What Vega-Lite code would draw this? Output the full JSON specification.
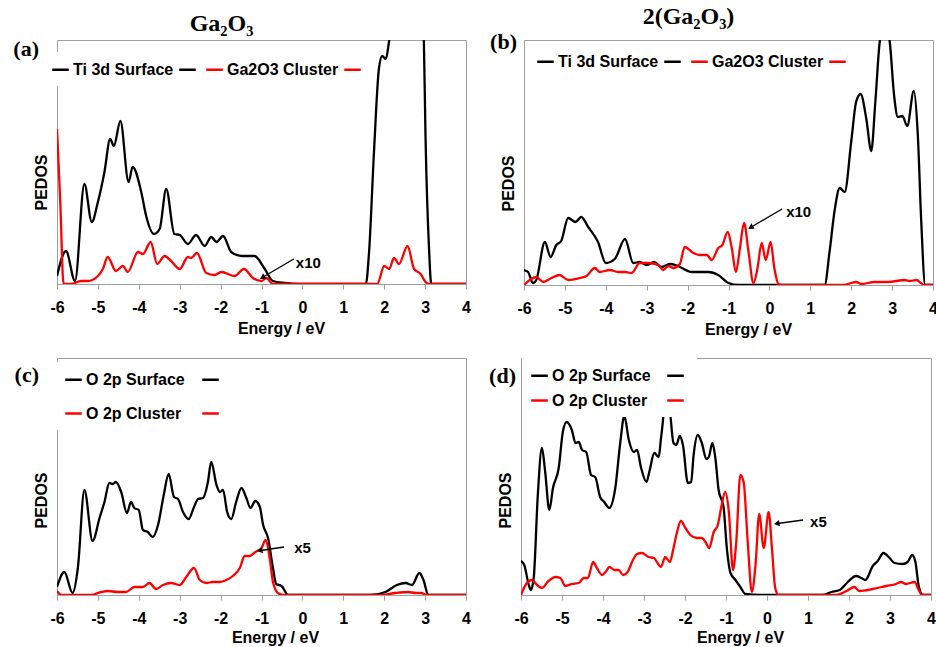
{
"$schema": "https://vega.github.io/schema/vega-lite/v6.json",
"padding": {"left": 12, "top": 4, "right": 0, "bottom": 0},
"background": "white",
"datasets": {
"a": [
{"s":"Ti 3d Surface","e":-6,"v":8},{"s":"Ti 3d Surface","e":-5.78,"v":33},{"s":"Ti 3d Surface","e":-5.56,"v":3},{"s":"Ti 3d Surface","e":-5.33,"v":100},{"s":"Ti 3d Surface","e":-5.15,"v":62},{"s":"Ti 3d Surface","e":-5,"v":82},{"s":"Ti 3d Surface","e":-4.84,"v":112},{"s":"Ti 3d Surface","e":-4.7,"v":145},{"s":"Ti 3d Surface","e":-4.61,"v":138},{"s":"Ti 3d Surface","e":-4.45,"v":163},{"s":"Ti 3d Surface","e":-4.25,"v":102},{"s":"Ti 3d Surface","e":-4.15,"v":117},{"s":"Ti 3d Surface","e":-3.94,"v":92},{"s":"Ti 3d Surface","e":-3.82,"v":68},{"s":"Ti 3d Surface","e":-3.63,"v":50},{"s":"Ti 3d Surface","e":-3.49,"v":55},{"s":"Ti 3d Surface","e":-3.33,"v":95},{"s":"Ti 3d Surface","e":-3.13,"v":50},{"s":"Ti 3d Surface","e":-3,"v":49},{"s":"Ti 3d Surface","e":-2.8,"v":40},{"s":"Ti 3d Surface","e":-2.6,"v":49},{"s":"Ti 3d Surface","e":-2.39,"v":38},{"s":"Ti 3d Surface","e":-2.23,"v":47},{"s":"Ti 3d Surface","e":-2.1,"v":42},{"s":"Ti 3d Surface","e":-1.94,"v":48},{"s":"Ti 3d Surface","e":-1.74,"v":32},{"s":"Ti 3d Surface","e":-1.49,"v":28},{"s":"Ti 3d Surface","e":-1.17,"v":28},{"s":"Ti 3d Surface","e":-0.92,"v":15},{"s":"Ti 3d Surface","e":-0.72,"v":3},{"s":"Ti 3d Surface","e":-0.43,"v":1},{"s":"Ti 3d Surface","e":-0.1,"v":0},{"s":"Ti 3d Surface","e":1.55,"v":0},{"s":"Ti 3d Surface","e":1.63,"v":32},{"s":"Ti 3d Surface","e":1.75,"v":132},{"s":"Ti 3d Surface","e":1.87,"v":215},{"s":"Ti 3d Surface","e":1.95,"v":228},{"s":"Ti 3d Surface","e":2.04,"v":225},{"s":"Ti 3d Surface","e":2.12,"v":243},{"s":"Ti 3d Surface","e":2.3,"v":300},{"s":"Ti 3d Surface","e":2.6,"v":330},{"s":"Ti 3d Surface","e":2.9,"v":300},{"s":"Ti 3d Surface","e":2.97,"v":243},{"s":"Ti 3d Surface","e":3.01,"v":148},{"s":"Ti 3d Surface","e":3.1,"v":32},{"s":"Ti 3d Surface","e":3.15,"v":0},{"s":"Ti 3d Surface","e":4,"v":0},
{"s":"Ga2O3 Cluster","e":-6,"v":155},{"s":"Ga2O3 Cluster","e":-5.92,"v":82},{"s":"Ga2O3 Cluster","e":-5.84,"v":0},{"s":"Ga2O3 Cluster","e":-5.66,"v":0},{"s":"Ga2O3 Cluster","e":-5.41,"v":3},{"s":"Ga2O3 Cluster","e":-5.25,"v":3},{"s":"Ga2O3 Cluster","e":-5,"v":8},{"s":"Ga2O3 Cluster","e":-4.88,"v":15},{"s":"Ga2O3 Cluster","e":-4.76,"v":27},{"s":"Ga2O3 Cluster","e":-4.56,"v":13},{"s":"Ga2O3 Cluster","e":-4.39,"v":18},{"s":"Ga2O3 Cluster","e":-4.27,"v":12},{"s":"Ga2O3 Cluster","e":-4.02,"v":32},{"s":"Ga2O3 Cluster","e":-3.9,"v":30},{"s":"Ga2O3 Cluster","e":-3.71,"v":42},{"s":"Ga2O3 Cluster","e":-3.55,"v":20},{"s":"Ga2O3 Cluster","e":-3.37,"v":28},{"s":"Ga2O3 Cluster","e":-3.21,"v":23},{"s":"Ga2O3 Cluster","e":-3,"v":15},{"s":"Ga2O3 Cluster","e":-2.8,"v":27},{"s":"Ga2O3 Cluster","e":-2.72,"v":26},{"s":"Ga2O3 Cluster","e":-2.58,"v":31},{"s":"Ga2O3 Cluster","e":-2.35,"v":11},{"s":"Ga2O3 Cluster","e":-2.15,"v":9},{"s":"Ga2O3 Cluster","e":-1.98,"v":12},{"s":"Ga2O3 Cluster","e":-1.66,"v":8},{"s":"Ga2O3 Cluster","e":-1.43,"v":15},{"s":"Ga2O3 Cluster","e":-1.21,"v":6},{"s":"Ga2O3 Cluster","e":-1,"v":3},{"s":"Ga2O3 Cluster","e":-0.88,"v":6},{"s":"Ga2O3 Cluster","e":-0.72,"v":0},{"s":"Ga2O3 Cluster","e":1.83,"v":0},{"s":"Ga2O3 Cluster","e":2,"v":18},{"s":"Ga2O3 Cluster","e":2.12,"v":15},{"s":"Ga2O3 Cluster","e":2.24,"v":26},{"s":"Ga2O3 Cluster","e":2.36,"v":20},{"s":"Ga2O3 Cluster","e":2.57,"v":38},{"s":"Ga2O3 Cluster","e":2.73,"v":15},{"s":"Ga2O3 Cluster","e":2.89,"v":10},{"s":"Ga2O3 Cluster","e":3.01,"v":2},{"s":"Ga2O3 Cluster","e":3.1,"v":0},{"s":"Ga2O3 Cluster","e":4,"v":0}
],
"b": [
{"s":"Ti 3d Surface","e":-6,"v":15},{"s":"Ti 3d Surface","e":-5.9,"v":13},{"s":"Ti 3d Surface","e":-5.78,"v":2},{"s":"Ti 3d Surface","e":-5.7,"v":5},{"s":"Ti 3d Surface","e":-5.49,"v":43},{"s":"Ti 3d Surface","e":-5.35,"v":28},{"s":"Ti 3d Surface","e":-5.21,"v":40},{"s":"Ti 3d Surface","e":-5.09,"v":44},{"s":"Ti 3d Surface","e":-4.92,"v":67},{"s":"Ti 3d Surface","e":-4.74,"v":63},{"s":"Ti 3d Surface","e":-4.6,"v":68},{"s":"Ti 3d Surface","e":-4.43,"v":58},{"s":"Ti 3d Surface","e":-4.19,"v":43},{"s":"Ti 3d Surface","e":-4,"v":22},{"s":"Ti 3d Surface","e":-3.78,"v":26},{"s":"Ti 3d Surface","e":-3.53,"v":46},{"s":"Ti 3d Surface","e":-3.33,"v":22},{"s":"Ti 3d Surface","e":-3.17,"v":23},{"s":"Ti 3d Surface","e":-3,"v":20},{"s":"Ti 3d Surface","e":-2.82,"v":23},{"s":"Ti 3d Surface","e":-2.64,"v":18},{"s":"Ti 3d Surface","e":-2.43,"v":21},{"s":"Ti 3d Surface","e":-2.24,"v":19},{"s":"Ti 3d Surface","e":-1.9,"v":13},{"s":"Ti 3d Surface","e":-1.49,"v":13},{"s":"Ti 3d Surface","e":-1.25,"v":10},{"s":"Ti 3d Surface","e":-1,"v":2},{"s":"Ti 3d Surface","e":-0.76,"v":0},{"s":"Ti 3d Surface","e":1.35,"v":0},{"s":"Ti 3d Surface","e":1.47,"v":33},{"s":"Ti 3d Surface","e":1.6,"v":76},{"s":"Ti 3d Surface","e":1.72,"v":97},{"s":"Ti 3d Surface","e":1.84,"v":93},{"s":"Ti 3d Surface","e":2,"v":143},{"s":"Ti 3d Surface","e":2.12,"v":183},{"s":"Ti 3d Surface","e":2.23,"v":191},{"s":"Ti 3d Surface","e":2.37,"v":166},{"s":"Ti 3d Surface","e":2.49,"v":134},{"s":"Ti 3d Surface","e":2.59,"v":183},{"s":"Ti 3d Surface","e":2.7,"v":244},{"s":"Ti 3d Surface","e":2.82,"v":262},{"s":"Ti 3d Surface","e":2.94,"v":244},{"s":"Ti 3d Surface","e":3.05,"v":189},{"s":"Ti 3d Surface","e":3.14,"v":168},{"s":"Ti 3d Surface","e":3.25,"v":169},{"s":"Ti 3d Surface","e":3.37,"v":159},{"s":"Ti 3d Surface","e":3.53,"v":194},{"s":"Ti 3d Surface","e":3.63,"v":149},{"s":"Ti 3d Surface","e":3.71,"v":66},{"s":"Ti 3d Surface","e":3.81,"v":0},{"s":"Ti 3d Surface","e":4,"v":0},
{"s":"Ga2O3 Cluster","e":-6,"v":0},{"s":"Ga2O3 Cluster","e":-5.86,"v":5},{"s":"Ga2O3 Cluster","e":-5.7,"v":8},{"s":"Ga2O3 Cluster","e":-5.53,"v":3},{"s":"Ga2O3 Cluster","e":-5.33,"v":7},{"s":"Ga2O3 Cluster","e":-5.13,"v":10},{"s":"Ga2O3 Cluster","e":-4.92,"v":5},{"s":"Ga2O3 Cluster","e":-4.64,"v":7},{"s":"Ga2O3 Cluster","e":-4.47,"v":9},{"s":"Ga2O3 Cluster","e":-4.27,"v":17},{"s":"Ga2O3 Cluster","e":-4.15,"v":13},{"s":"Ga2O3 Cluster","e":-3.9,"v":15},{"s":"Ga2O3 Cluster","e":-3.7,"v":13},{"s":"Ga2O3 Cluster","e":-3.53,"v":13},{"s":"Ga2O3 Cluster","e":-3.37,"v":12},{"s":"Ga2O3 Cluster","e":-3.17,"v":22},{"s":"Ga2O3 Cluster","e":-2.96,"v":22},{"s":"Ga2O3 Cluster","e":-2.72,"v":20},{"s":"Ga2O3 Cluster","e":-2.6,"v":15},{"s":"Ga2O3 Cluster","e":-2.47,"v":19},{"s":"Ga2O3 Cluster","e":-2.35,"v":17},{"s":"Ga2O3 Cluster","e":-2.19,"v":21},{"s":"Ga2O3 Cluster","e":-2.07,"v":38},{"s":"Ga2O3 Cluster","e":-1.86,"v":32},{"s":"Ga2O3 Cluster","e":-1.7,"v":30},{"s":"Ga2O3 Cluster","e":-1.53,"v":30},{"s":"Ga2O3 Cluster","e":-1.41,"v":25},{"s":"Ga2O3 Cluster","e":-1.25,"v":37},{"s":"Ga2O3 Cluster","e":-1.15,"v":40},{"s":"Ga2O3 Cluster","e":-1.02,"v":53},{"s":"Ga2O3 Cluster","e":-0.92,"v":37},{"s":"Ga2O3 Cluster","e":-0.82,"v":13},{"s":"Ga2O3 Cluster","e":-0.72,"v":37},{"s":"Ga2O3 Cluster","e":-0.62,"v":62},{"s":"Ga2O3 Cluster","e":-0.51,"v":33},{"s":"Ga2O3 Cluster","e":-0.39,"v":2},{"s":"Ga2O3 Cluster","e":-0.29,"v":17},{"s":"Ga2O3 Cluster","e":-0.19,"v":42},{"s":"Ga2O3 Cluster","e":-0.09,"v":25},{"s":"Ga2O3 Cluster","e":0.03,"v":43},{"s":"Ga2O3 Cluster","e":0.12,"v":17},{"s":"Ga2O3 Cluster","e":0.22,"v":1},{"s":"Ga2O3 Cluster","e":0.3,"v":0},{"s":"Ga2O3 Cluster","e":1.8,"v":0},{"s":"Ga2O3 Cluster","e":2.12,"v":3},{"s":"Ga2O3 Cluster","e":2.25,"v":1},{"s":"Ga2O3 Cluster","e":2.57,"v":3},{"s":"Ga2O3 Cluster","e":2.9,"v":3},{"s":"Ga2O3 Cluster","e":3.31,"v":5},{"s":"Ga2O3 Cluster","e":3.43,"v":4},{"s":"Ga2O3 Cluster","e":3.6,"v":5},{"s":"Ga2O3 Cluster","e":3.7,"v":2},{"s":"Ga2O3 Cluster","e":3.8,"v":0},{"s":"Ga2O3 Cluster","e":4,"v":0}
],
"c": [
{"s":"O 2p Surface","e":-6,"v":8},{"s":"O 2p Surface","e":-5.82,"v":23},{"s":"O 2p Surface","e":-5.62,"v":2},{"s":"O 2p Surface","e":-5.49,"v":27},{"s":"O 2p Surface","e":-5.33,"v":105},{"s":"O 2p Surface","e":-5.13,"v":54},{"s":"O 2p Surface","e":-4.96,"v":77},{"s":"O 2p Surface","e":-4.84,"v":93},{"s":"O 2p Surface","e":-4.72,"v":112},{"s":"O 2p Surface","e":-4.64,"v":111},{"s":"O 2p Surface","e":-4.56,"v":113},{"s":"O 2p Surface","e":-4.43,"v":103},{"s":"O 2p Surface","e":-4.29,"v":82},{"s":"O 2p Surface","e":-4.19,"v":93},{"s":"O 2p Surface","e":-4.11,"v":87},{"s":"O 2p Surface","e":-4,"v":85},{"s":"O 2p Surface","e":-3.9,"v":65},{"s":"O 2p Surface","e":-3.78,"v":63},{"s":"O 2p Surface","e":-3.66,"v":58},{"s":"O 2p Surface","e":-3.53,"v":70},{"s":"O 2p Surface","e":-3.39,"v":100},{"s":"O 2p Surface","e":-3.27,"v":121},{"s":"O 2p Surface","e":-3.14,"v":98},{"s":"O 2p Surface","e":-3.04,"v":96},{"s":"O 2p Surface","e":-2.92,"v":83},{"s":"O 2p Surface","e":-2.78,"v":76},{"s":"O 2p Surface","e":-2.65,"v":88},{"s":"O 2p Surface","e":-2.55,"v":96},{"s":"O 2p Surface","e":-2.43,"v":97},{"s":"O 2p Surface","e":-2.31,"v":113},{"s":"O 2p Surface","e":-2.23,"v":133},{"s":"O 2p Surface","e":-2.1,"v":110},{"s":"O 2p Surface","e":-2.02,"v":103},{"s":"O 2p Surface","e":-1.94,"v":105},{"s":"O 2p Surface","e":-1.84,"v":83},{"s":"O 2p Surface","e":-1.74,"v":76},{"s":"O 2p Surface","e":-1.62,"v":93},{"s":"O 2p Surface","e":-1.49,"v":107},{"s":"O 2p Surface","e":-1.37,"v":97},{"s":"O 2p Surface","e":-1.27,"v":87},{"s":"O 2p Surface","e":-1.15,"v":94},{"s":"O 2p Surface","e":-1.04,"v":88},{"s":"O 2p Surface","e":-0.96,"v":70},{"s":"O 2p Surface","e":-0.84,"v":57},{"s":"O 2p Surface","e":-0.72,"v":27},{"s":"O 2p Surface","e":-0.64,"v":11},{"s":"O 2p Surface","e":-0.51,"v":9},{"s":"O 2p Surface","e":-0.35,"v":0},{"s":"O 2p Surface","e":1.66,"v":0},{"s":"O 2p Surface","e":2.03,"v":3},{"s":"O 2p Surface","e":2.31,"v":10},{"s":"O 2p Surface","e":2.52,"v":12},{"s":"O 2p Surface","e":2.68,"v":10},{"s":"O 2p Surface","e":2.86,"v":22},{"s":"O 2p Surface","e":2.96,"v":15},{"s":"O 2p Surface","e":3.08,"v":0},{"s":"O 2p Surface","e":4,"v":0},
{"s":"O 2p Cluster","e":-6,"v":4},{"s":"O 2p Cluster","e":-5.9,"v":0},{"s":"O 2p Cluster","e":-5.17,"v":0},{"s":"O 2p Cluster","e":-4.92,"v":3},{"s":"O 2p Cluster","e":-4.76,"v":4},{"s":"O 2p Cluster","e":-4.51,"v":3},{"s":"O 2p Cluster","e":-4.31,"v":3},{"s":"O 2p Cluster","e":-4.11,"v":8},{"s":"O 2p Cluster","e":-3.9,"v":8},{"s":"O 2p Cluster","e":-3.74,"v":12},{"s":"O 2p Cluster","e":-3.58,"v":6},{"s":"O 2p Cluster","e":-3.41,"v":10},{"s":"O 2p Cluster","e":-3.21,"v":12},{"s":"O 2p Cluster","e":-3,"v":10},{"s":"O 2p Cluster","e":-2.84,"v":18},{"s":"O 2p Cluster","e":-2.65,"v":27},{"s":"O 2p Cluster","e":-2.51,"v":15},{"s":"O 2p Cluster","e":-2.35,"v":12},{"s":"O 2p Cluster","e":-2.19,"v":13},{"s":"O 2p Cluster","e":-2.02,"v":13},{"s":"O 2p Cluster","e":-1.86,"v":15},{"s":"O 2p Cluster","e":-1.7,"v":19},{"s":"O 2p Cluster","e":-1.53,"v":27},{"s":"O 2p Cluster","e":-1.41,"v":39},{"s":"O 2p Cluster","e":-1.29,"v":39},{"s":"O 2p Cluster","e":-1.15,"v":43},{"s":"O 2p Cluster","e":-1,"v":47},{"s":"O 2p Cluster","e":-0.9,"v":55},{"s":"O 2p Cluster","e":-0.8,"v":37},{"s":"O 2p Cluster","e":-0.72,"v":13},{"s":"O 2p Cluster","e":-0.6,"v":2},{"s":"O 2p Cluster","e":-0.47,"v":0},{"s":"O 2p Cluster","e":1.93,"v":0},{"s":"O 2p Cluster","e":2.27,"v":2},{"s":"O 2p Cluster","e":2.59,"v":3},{"s":"O 2p Cluster","e":2.77,"v":2},{"s":"O 2p Cluster","e":2.9,"v":2},{"s":"O 2p Cluster","e":3.05,"v":0},{"s":"O 2p Cluster","e":4,"v":0}
],
"d": [
{"s":"O 2p Surface","e":-6,"v":34},{"s":"O 2p Surface","e":-5.92,"v":30},{"s":"O 2p Surface","e":-5.81,"v":10},{"s":"O 2p Surface","e":-5.76,"v":5},{"s":"O 2p Surface","e":-5.69,"v":17},{"s":"O 2p Surface","e":-5.59,"v":100},{"s":"O 2p Surface","e":-5.49,"v":147},{"s":"O 2p Surface","e":-5.41,"v":123},{"s":"O 2p Surface","e":-5.31,"v":85},{"s":"O 2p Surface","e":-5.22,"v":107},{"s":"O 2p Surface","e":-5.08,"v":127},{"s":"O 2p Surface","e":-4.98,"v":163},{"s":"O 2p Surface","e":-4.89,"v":173},{"s":"O 2p Surface","e":-4.76,"v":165},{"s":"O 2p Surface","e":-4.67,"v":152},{"s":"O 2p Surface","e":-4.59,"v":153},{"s":"O 2p Surface","e":-4.51,"v":145},{"s":"O 2p Surface","e":-4.41,"v":143},{"s":"O 2p Surface","e":-4.29,"v":120},{"s":"O 2p Surface","e":-4.19,"v":118},{"s":"O 2p Surface","e":-4.07,"v":98},{"s":"O 2p Surface","e":-3.97,"v":93},{"s":"O 2p Surface","e":-3.85,"v":87},{"s":"O 2p Surface","e":-3.7,"v":107},{"s":"O 2p Surface","e":-3.58,"v":152},{"s":"O 2p Surface","e":-3.48,"v":179},{"s":"O 2p Surface","e":-3.37,"v":155},{"s":"O 2p Surface","e":-3.25,"v":143},{"s":"O 2p Surface","e":-3.17,"v":145},{"s":"O 2p Surface","e":-3.07,"v":127},{"s":"O 2p Surface","e":-2.94,"v":113},{"s":"O 2p Surface","e":-2.86,"v":125},{"s":"O 2p Surface","e":-2.75,"v":142},{"s":"O 2p Surface","e":-2.64,"v":138},{"s":"O 2p Surface","e":-2.59,"v":155},{"s":"O 2p Surface","e":-2.52,"v":182},{"s":"O 2p Surface","e":-2.46,"v":215},{"s":"O 2p Surface","e":-2.41,"v":205},{"s":"O 2p Surface","e":-2.36,"v":182},{"s":"O 2p Surface","e":-2.28,"v":152},{"s":"O 2p Surface","e":-2.21,"v":150},{"s":"O 2p Surface","e":-2.13,"v":159},{"s":"O 2p Surface","e":-2.05,"v":150},{"s":"O 2p Surface","e":-1.93,"v":112},{"s":"O 2p Surface","e":-1.85,"v":113},{"s":"O 2p Surface","e":-1.79,"v":140},{"s":"O 2p Surface","e":-1.69,"v":160},{"s":"O 2p Surface","e":-1.59,"v":152},{"s":"O 2p Surface","e":-1.48,"v":136},{"s":"O 2p Surface","e":-1.42,"v":138},{"s":"O 2p Surface","e":-1.33,"v":152},{"s":"O 2p Surface","e":-1.26,"v":137},{"s":"O 2p Surface","e":-1.18,"v":105},{"s":"O 2p Surface","e":-1.06,"v":88},{"s":"O 2p Surface","e":-0.98,"v":47},{"s":"O 2p Surface","e":-0.89,"v":22},{"s":"O 2p Surface","e":-0.77,"v":15},{"s":"O 2p Surface","e":-0.65,"v":8},{"s":"O 2p Surface","e":-0.53,"v":1},{"s":"O 2p Surface","e":-0.16,"v":0},{"s":"O 2p Surface","e":1.36,"v":0},{"s":"O 2p Surface","e":1.57,"v":3},{"s":"O 2p Surface","e":1.77,"v":5},{"s":"O 2p Surface","e":1.97,"v":13},{"s":"O 2p Surface","e":2.17,"v":19},{"s":"O 2p Surface","e":2.3,"v":17},{"s":"O 2p Surface","e":2.4,"v":15},{"s":"O 2p Surface","e":2.58,"v":29},{"s":"O 2p Surface","e":2.7,"v":34},{"s":"O 2p Surface","e":2.84,"v":42},{"s":"O 2p Surface","e":2.99,"v":37},{"s":"O 2p Surface","e":3.11,"v":32},{"s":"O 2p Surface","e":3.31,"v":31},{"s":"O 2p Surface","e":3.43,"v":33},{"s":"O 2p Surface","e":3.54,"v":40},{"s":"O 2p Surface","e":3.62,"v":33},{"s":"O 2p Surface","e":3.7,"v":9},{"s":"O 2p Surface","e":3.8,"v":0},{"s":"O 2p Surface","e":4,"v":0},
{"s":"O 2p Cluster","e":-6,"v":0},{"s":"O 2p Cluster","e":-5.89,"v":10},{"s":"O 2p Cluster","e":-5.73,"v":15},{"s":"O 2p Cluster","e":-5.61,"v":10},{"s":"O 2p Cluster","e":-5.49,"v":7},{"s":"O 2p Cluster","e":-5.33,"v":14},{"s":"O 2p Cluster","e":-5.16,"v":18},{"s":"O 2p Cluster","e":-5.04,"v":17},{"s":"O 2p Cluster","e":-4.92,"v":9},{"s":"O 2p Cluster","e":-4.76,"v":11},{"s":"O 2p Cluster","e":-4.59,"v":12},{"s":"O 2p Cluster","e":-4.47,"v":17},{"s":"O 2p Cluster","e":-4.37,"v":17},{"s":"O 2p Cluster","e":-4.24,"v":33},{"s":"O 2p Cluster","e":-4.15,"v":27},{"s":"O 2p Cluster","e":-4.02,"v":20},{"s":"O 2p Cluster","e":-3.94,"v":23},{"s":"O 2p Cluster","e":-3.84,"v":28},{"s":"O 2p Cluster","e":-3.72,"v":25},{"s":"O 2p Cluster","e":-3.62,"v":25},{"s":"O 2p Cluster","e":-3.51,"v":20},{"s":"O 2p Cluster","e":-3.4,"v":23},{"s":"O 2p Cluster","e":-3.27,"v":35},{"s":"O 2p Cluster","e":-3.17,"v":41},{"s":"O 2p Cluster","e":-3.05,"v":42},{"s":"O 2p Cluster","e":-2.89,"v":38},{"s":"O 2p Cluster","e":-2.76,"v":37},{"s":"O 2p Cluster","e":-2.67,"v":32},{"s":"O 2p Cluster","e":-2.59,"v":28},{"s":"O 2p Cluster","e":-2.48,"v":38},{"s":"O 2p Cluster","e":-2.37,"v":33},{"s":"O 2p Cluster","e":-2.28,"v":47},{"s":"O 2p Cluster","e":-2.2,"v":62},{"s":"O 2p Cluster","e":-2.1,"v":74},{"s":"O 2p Cluster","e":-1.99,"v":67},{"s":"O 2p Cluster","e":-1.87,"v":60},{"s":"O 2p Cluster","e":-1.71,"v":57},{"s":"O 2p Cluster","e":-1.59,"v":57},{"s":"O 2p Cluster","e":-1.5,"v":53},{"s":"O 2p Cluster","e":-1.41,"v":47},{"s":"O 2p Cluster","e":-1.3,"v":63},{"s":"O 2p Cluster","e":-1.2,"v":70},{"s":"O 2p Cluster","e":-1.12,"v":87},{"s":"O 2p Cluster","e":-1.02,"v":103},{"s":"O 2p Cluster","e":-0.93,"v":83},{"s":"O 2p Cluster","e":-0.83,"v":25},{"s":"O 2p Cluster","e":-0.75,"v":53},{"s":"O 2p Cluster","e":-0.65,"v":120},{"s":"O 2p Cluster","e":-0.57,"v":113},{"s":"O 2p Cluster","e":-0.47,"v":53},{"s":"O 2p Cluster","e":-0.37,"v":3},{"s":"O 2p Cluster","e":-0.28,"v":30},{"s":"O 2p Cluster","e":-0.19,"v":81},{"s":"O 2p Cluster","e":-0.08,"v":47},{"s":"O 2p Cluster","e":0.04,"v":83},{"s":"O 2p Cluster","e":0.12,"v":47},{"s":"O 2p Cluster","e":0.2,"v":7},{"s":"O 2p Cluster","e":0.28,"v":0},{"s":"O 2p Cluster","e":1.69,"v":0},{"s":"O 2p Cluster","e":1.94,"v":4},{"s":"O 2p Cluster","e":2.13,"v":8},{"s":"O 2p Cluster","e":2.25,"v":4},{"s":"O 2p Cluster","e":2.58,"v":6},{"s":"O 2p Cluster","e":2.91,"v":9},{"s":"O 2p Cluster","e":3.15,"v":11},{"s":"O 2p Cluster","e":3.27,"v":13},{"s":"O 2p Cluster","e":3.39,"v":11},{"s":"O 2p Cluster","e":3.6,"v":13},{"s":"O 2p Cluster","e":3.7,"v":5},{"s":"O 2p Cluster","e":3.78,"v":0},{"s":"O 2p Cluster","e":4,"v":0}
]
},
"vconcat": [
{"hconcat": [
{"width": 409, "height": 244,
 "title": {"text": "Ga₂O₃", "font": "Liberation Serif", "fontSize": 24, "fontWeight": "bold", "color": "#000", "anchor": "middle", "dx": -40, "offset": 2},
 "layer": [
  {"data": {"name": "a"},
   "mark": {"type": "line", "clip": true, "strokeWidth": 2.3, "interpolate": "monotone"},
   "encoding": {
    "x": {"field": "e", "type": "quantitative", "scale": {"domain": [-6, 4], "nice": false, "zero": false}, "axis": {"title": "Energy / eV", "values": [-6,-5,-4,-3,-2,-1,0,1,2,3,4], "labelExpr": "replace(datum.label, '−', '-')", "tickSize": 5, "labelPadding": 10, "titlePadding": 5, "labelFlush": false, "titleX": 224}},
    "y": {"field": "v", "type": "quantitative", "scale": {"domain": [0, 244], "nice": false}, "axis": {"title": "PEDOS", "labels": false, "ticks": false, "titleY": 142, "titlePadding": 8}},
    "color": {"field": "s", "type": "nominal", "scale": {"domain": ["Ti 3d Surface", " ", "Ga2O3 Cluster", "  "], "range": ["#000000", "#000000", "#ff0000", "#ff0000"]},
     "legend": {"title": null, "orient": "none", "legendX": -14, "legendY": 12, "direction": "horizontal", "labelExpr": "trim(datum.label)", "columnPadding": 0, "padding": 8, "fillColor": "white"}}
   }},
  {"data": {"values": [{"e": -0.21, "v": 25, "e2": -0.96, "v2": 7}]},
   "mark": {"type": "rule", "color": "#000", "strokeWidth": 1.3},
   "encoding": {"x": {"field": "e", "type": "quantitative"}, "y": {"field": "v", "type": "quantitative"}, "x2": {"field": "e2"}, "y2": {"field": "v2"}}},
  {"data": {"values": [{"e": -0.96, "v": 7}]},
   "mark": {"type": "point", "shape": "triangle", "filled": true, "color": "#000", "size": 40, "angle": 239, "opacity": 1},
   "encoding": {"x": {"field": "e", "type": "quantitative"}, "y": {"field": "v", "type": "quantitative"}}},
  {"data": {"values": [{"e": -0.16, "v": 21, "t": "x10"}]},
   "mark": {"type": "text", "align": "left", "baseline": "middle", "font": "Liberation Sans", "fontSize": 15, "fontWeight": "bold", "color": "#000"},
   "encoding": {"x": {"field": "e", "type": "quantitative"}, "y": {"field": "v", "type": "quantitative"}, "text": {"field": "t"}}},
  {"data": {"values": [{"t": "(a)"}]},
   "mark": {"type": "text", "align": "right", "baseline": "middle", "dx": -18, "dy": 9, "font": "Liberation Serif", "fontSize": 22, "fontWeight": "bold", "color": "#000"},
   "encoding": {"x": {"datum": -6}, "y": {"datum": 244}, "text": {"field": "t"}}}
 ]},
{"width": 409, "height": 245,
 "title": {"text": "2(Ga₂O₃)", "font": "Liberation Serif", "fontSize": 24, "fontWeight": "bold", "color": "#000", "anchor": "middle", "dx": -40, "offset": 2},
 "layer": [
  {"data": {"name": "b"},
   "mark": {"type": "line", "clip": true, "strokeWidth": 2.3, "interpolate": "monotone"},
   "encoding": {
    "x": {"field": "e", "type": "quantitative", "scale": {"domain": [-6, 4], "nice": false, "zero": false}, "axis": {"title": "Energy / eV", "values": [-6,-5,-4,-3,-2,-1,0,1,2,3,4], "labelExpr": "replace(datum.label, '−', '-')", "tickSize": 5, "labelPadding": 10, "titlePadding": 5, "labelFlush": false, "titleX": 224}},
    "y": {"field": "v", "type": "quantitative", "scale": {"domain": [0, 245], "nice": false}, "axis": {"title": "PEDOS", "labels": false, "ticks": false, "titleY": 143, "titlePadding": 8}},
    "color": {"field": "s", "type": "nominal", "scale": {"domain": ["Ti 3d Surface", " ", "Ga2O3 Cluster", "  "], "range": ["#000000", "#000000", "#ff0000", "#ff0000"]},
     "legend": {"title": null, "orient": "none", "legendX": 4, "legendY": 4, "direction": "horizontal", "labelExpr": "trim(datum.label)", "columnPadding": 0, "padding": 8, "fillColor": "white"}}
   }},
  {"data": {"values": [{"e": 0.31, "v": 76, "e2": -0.44, "v2": 58}]},
   "mark": {"type": "rule", "color": "#000", "strokeWidth": 1.3},
   "encoding": {"x": {"field": "e", "type": "quantitative"}, "y": {"field": "v", "type": "quantitative"}, "x2": {"field": "e2"}, "y2": {"field": "v2"}}},
  {"data": {"values": [{"e": -0.44, "v": 58}]},
   "mark": {"type": "point", "shape": "triangle", "filled": true, "color": "#000", "size": 40, "angle": 239, "opacity": 1},
   "encoding": {"x": {"field": "e", "type": "quantitative"}, "y": {"field": "v", "type": "quantitative"}}},
  {"data": {"values": [{"e": 0.41, "v": 73, "t": "x10"}]},
   "mark": {"type": "text", "align": "left", "baseline": "middle", "font": "Liberation Sans", "fontSize": 15, "fontWeight": "bold", "color": "#000"},
   "encoding": {"x": {"field": "e", "type": "quantitative"}, "y": {"field": "v", "type": "quantitative"}, "text": {"field": "t"}}},
  {"data": {"values": [{"t": "(b)"}]},
   "mark": {"type": "text", "align": "right", "baseline": "middle", "dx": -7, "dy": 2, "font": "Liberation Serif", "fontSize": 22, "fontWeight": "bold", "color": "#000"},
   "encoding": {"x": {"datum": -6}, "y": {"datum": 245}, "text": {"field": "t"}}}
 ]}
], "spacing": 18, "resolve": {"scale": {"color": "independent"}, "legend": {"color": "independent"}}},
{"hconcat": [
{"width": 409, "height": 237,
 "layer": [
  {"data": {"name": "c"},
   "mark": {"type": "line", "clip": true, "strokeWidth": 2.3, "interpolate": "monotone"},
   "encoding": {
    "x": {"field": "e", "type": "quantitative", "scale": {"domain": [-6, 4], "nice": false, "zero": false}, "axis": {"title": "Energy / eV", "values": [-6,-5,-4,-3,-2,-1,0,1,2,3,4], "labelExpr": "replace(datum.label, '−', '-')", "tickSize": 5, "labelPadding": 10, "titlePadding": 3, "labelFlush": false, "titleX": 218}},
    "y": {"field": "v", "type": "quantitative", "scale": {"domain": [0, 237], "nice": false}, "axis": {"title": "PEDOS", "labels": false, "ticks": false, "titleY": 142, "titlePadding": 8}},
    "color": {"field": "s", "type": "nominal", "scale": {"domain": ["O 2p Surface", " ", "O 2p Cluster", "  "], "range": ["#000000", "#000000", "#ff0000", "#ff0000"]},
     "legend": {"title": null, "orient": "none", "legendX": -1, "legendY": 4, "direction": "horizontal", "columns": 2, "labelExpr": "trim(datum.label)", "columnPadding": 12, "rowPadding": 16, "padding": 8, "fillColor": "white"}}
   }},
  {"data": {"values": [{"e": -0.45, "v": 48, "e2": -1.02, "v2": 44.5}]},
   "mark": {"type": "rule", "color": "#000", "strokeWidth": 1.3},
   "encoding": {"x": {"field": "e", "type": "quantitative"}, "y": {"field": "v", "type": "quantitative"}, "x2": {"field": "e2"}, "y2": {"field": "v2"}}},
  {"data": {"values": [{"e": -1.02, "v": 44.5}]},
   "mark": {"type": "point", "shape": "triangle", "filled": true, "color": "#000", "size": 40, "angle": 261, "opacity": 1},
   "encoding": {"x": {"field": "e", "type": "quantitative"}, "y": {"field": "v", "type": "quantitative"}}},
  {"data": {"values": [{"e": -0.2, "v": 47, "t": "x5"}]},
   "mark": {"type": "text", "align": "left", "baseline": "middle", "font": "Liberation Sans", "fontSize": 15, "fontWeight": "bold", "color": "#000"},
   "encoding": {"x": {"field": "e", "type": "quantitative"}, "y": {"field": "v", "type": "quantitative"}, "text": {"field": "t"}}},
  {"data": {"values": [{"t": "(c)"}]},
   "mark": {"type": "text", "align": "right", "baseline": "middle", "dx": -18, "dy": 17, "font": "Liberation Serif", "fontSize": 22, "fontWeight": "bold", "color": "#000"},
   "encoding": {"x": {"datum": -6}, "y": {"datum": 237}, "text": {"field": "t"}}}
 ]},
{"width": 410, "height": 237,
 "layer": [
  {"data": {"name": "d"},
   "mark": {"type": "line", "clip": true, "strokeWidth": 2.3, "interpolate": "monotone"},
   "encoding": {
    "x": {"field": "e", "type": "quantitative", "scale": {"domain": [-6, 4], "nice": false, "zero": false}, "axis": {"title": "Energy / eV", "values": [-6,-5,-4,-3,-2,-1,0,1,2,3,4], "labelExpr": "replace(datum.label, '−', '-')", "tickSize": 5, "labelPadding": 10, "titlePadding": 3, "labelFlush": false, "titleX": 219}},
    "y": {"field": "v", "type": "quantitative", "scale": {"domain": [0, 237], "nice": false}, "axis": {"title": "PEDOS", "labels": false, "ticks": false, "titleY": 142, "titlePadding": 8}},
    "color": {"field": "s", "type": "nominal", "scale": {"domain": ["O 2p Surface", " ", "O 2p Cluster", "  "], "range": ["#000000", "#000000", "#ff0000", "#ff0000"]},
     "legend": {"title": null, "orient": "none", "legendX": 1, "legendY": 0, "direction": "horizontal", "columns": 2, "labelExpr": "trim(datum.label)", "columnPadding": 11, "rowPadding": 7, "padding": 8, "fillColor": "white"}}
   }},
  {"data": {"values": [{"e": 0.88, "v": 75, "e2": 0.26, "v2": 71.5}]},
   "mark": {"type": "rule", "color": "#000", "strokeWidth": 1.3},
   "encoding": {"x": {"field": "e", "type": "quantitative"}, "y": {"field": "v", "type": "quantitative"}, "x2": {"field": "e2"}, "y2": {"field": "v2"}}},
  {"data": {"values": [{"e": 0.26, "v": 71.5}]},
   "mark": {"type": "point", "shape": "triangle", "filled": true, "color": "#000", "size": 40, "angle": 261, "opacity": 1},
   "encoding": {"x": {"field": "e", "type": "quantitative"}, "y": {"field": "v", "type": "quantitative"}}},
  {"data": {"values": [{"e": 1.05, "v": 73, "t": "x5"}]},
   "mark": {"type": "text", "align": "left", "baseline": "middle", "font": "Liberation Sans", "fontSize": 15, "fontWeight": "bold", "color": "#000"},
   "encoding": {"x": {"field": "e", "type": "quantitative"}, "y": {"field": "v", "type": "quantitative"}, "text": {"field": "t"}}},
  {"data": {"values": [{"t": "(d)"}]},
   "mark": {"type": "text", "align": "right", "baseline": "middle", "dx": -5, "dy": 18, "font": "Liberation Serif", "fontSize": 22, "fontWeight": "bold", "color": "#000"},
   "encoding": {"x": {"datum": -6}, "y": {"datum": 237}, "text": {"field": "t"}}}
 ]}
], "spacing": 17, "resolve": {"scale": {"color": "independent"}, "legend": {"color": "independent"}}}
],
"spacing": 19,
"resolve": {"scale": {"color": "independent"}, "legend": {"color": "independent"}},
"config": {
 "font": "Liberation Sans",
 "view": {"stroke": "#a0a0a0", "strokeWidth": 1},
 "axis": {"domainColor": "#a0a0a0", "tickColor": "#a0a0a0", "grid": false, "labelFont": "Liberation Sans", "labelFontSize": 16, "labelFontWeight": "bold", "labelColor": "#000", "titleFont": "Liberation Sans", "titleFontSize": 16, "titleFontWeight": "bold", "titleColor": "#000", "labelOverlap": false},
 "legend": {"labelFont": "Liberation Sans", "labelFontSize": 16, "labelFontWeight": "bold", "labelColor": "#000", "symbolType": "stroke", "symbolSize": 272, "symbolStrokeWidth": 2.5, "labelOffset": 3}
}
}
